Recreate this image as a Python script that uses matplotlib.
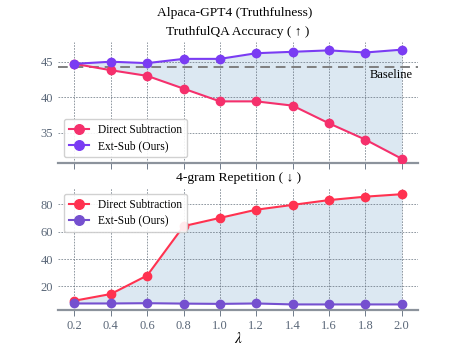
import matplotlib.pyplot as plt

# ---------- DATA -----------------------------------------------------------
lambdas = [0.2, 0.4, 0.6, 0.8, 1.0, 1.2, 1.4, 1.6, 1.8, 2.0]

acc_direct = [44.7, 43.8, 43.0, 41.2, 39.4, 39.4, 38.8, 36.3, 34.0, 31.3]
acc_extsub = [44.7, 45.0, 44.8, 45.4, 45.4, 46.2, 46.4, 46.6, 46.3, 46.7]
acc_baseline = 44.3

rep_direct = [9.6, 14.5, 28.0, 64.0, 70.0, 76.0, 79.5, 83.0, 85.5, 87.3]
rep_extsub = [7.6, 7.6, 7.8, 7.5, 7.3, 7.6, 6.9, 6.9, 6.9, 6.9]

# ---------- STYLE ----------------------------------------------------------
plt.rcParams['font.family'] = ['Liberation Serif', 'DejaVu Serif']
plt.rcParams['mathtext.fontset'] = 'stix'
TICK_C = '#5a6778'
FILL_C = '#dce8f2'


def style_axes(ax):
    for s in ['left', 'right', 'top']:
        ax.spines[s].set_visible(False)
    ax.spines['bottom'].set_color('#8c939c')
    ax.spines['bottom'].set_linewidth(1.6)
    ax.grid(True, linestyle=(0, (2, 1.5)), color='#5f6b78', linewidth=0.6, alpha=0.8)
    ax.tick_params(axis='both', colors=TICK_C, labelsize=9, length=4, width=0.6)
    ax.tick_params(axis='y', length=0)
    ax.set_xticks(lambdas)
    ax.set_axisbelow('line')


def add_legend(ax, loc):
    ax.legend(loc=loc, fontsize=8.3, frameon=True, borderpad=0.45, handlelength=1.7,
              handletextpad=0.8, labelspacing=0.35, markerscale=1.15, framealpha=0.9)


fig = plt.figure(figsize=(4.65, 3.49), dpi=100)
ax1 = fig.add_axes([0.125, 0.533, 0.774, 0.347])
ax2 = fig.add_axes([0.125, 0.112, 0.774, 0.350])

# top: TruthfulQA accuracy
ax1.fill_between(lambdas, acc_direct, acc_extsub, color=FILL_C, lw=0, zorder=1)
ax1.axhline(acc_baseline, color='#7f7f7f', linestyle='--', linewidth=1.4, dashes=(5, 3), zorder=2)
ax1.text(2.06, acc_baseline - 0.3, 'Baseline', ha='right', va='top', fontsize=9)
ax1.plot(lambdas, acc_direct, '-o', color='#f5306c', lw=1.5, ms=6, label='Direct Subtraction', zorder=3)
ax1.plot(lambdas, acc_extsub, '-o', color='#7a3cf3', lw=1.5, ms=6, label='Ext-Sub (Ours)', zorder=3)
style_axes(ax1)
ax1.set_ylim(30.7, 47.8)
ax1.set_yticks([35, 40, 45])
ax1.tick_params(axis='x', labelbottom=False)
ax1.set_title('TruthfulQA Accuracy ( ↑ )', fontsize=9.7, pad=5, family=['Liberation Serif', 'DejaVu Sans'])
add_legend(ax1, 'lower left')

# bottom: 4-gram repetition
ax2.fill_between(lambdas, rep_extsub, rep_direct, color=FILL_C, lw=0, zorder=1)
ax2.plot(lambdas, rep_direct, '-o', color='#ff3250', lw=1.5, ms=6, label='Direct Subtraction', zorder=3)
ax2.plot(lambdas, rep_extsub, '-o', color='#7550cf', lw=1.5, ms=6, label='Ext-Sub (Ours)', zorder=3)
style_axes(ax2)
ax2.set_ylim(2.9, 92)
ax2.set_yticks([20, 40, 60, 80])
ax2.set_xticklabels([f'{v:.1f}' for v in lambdas])
ax2.set_xlabel(r'$\lambda$', fontsize=11, labelpad=-1)
ax2.set_title('4-gram Repetition ( ↓ )', fontsize=9.7, pad=5, family=['Liberation Serif', 'DejaVu Sans'])
add_legend(ax2, 'upper left')

fig.text(0.505, 0.963, 'Alpaca-GPT4 (Truthfulness)', ha='center', va='center', fontsize=9.7)

fig.savefig('out.png', dpi=100)
